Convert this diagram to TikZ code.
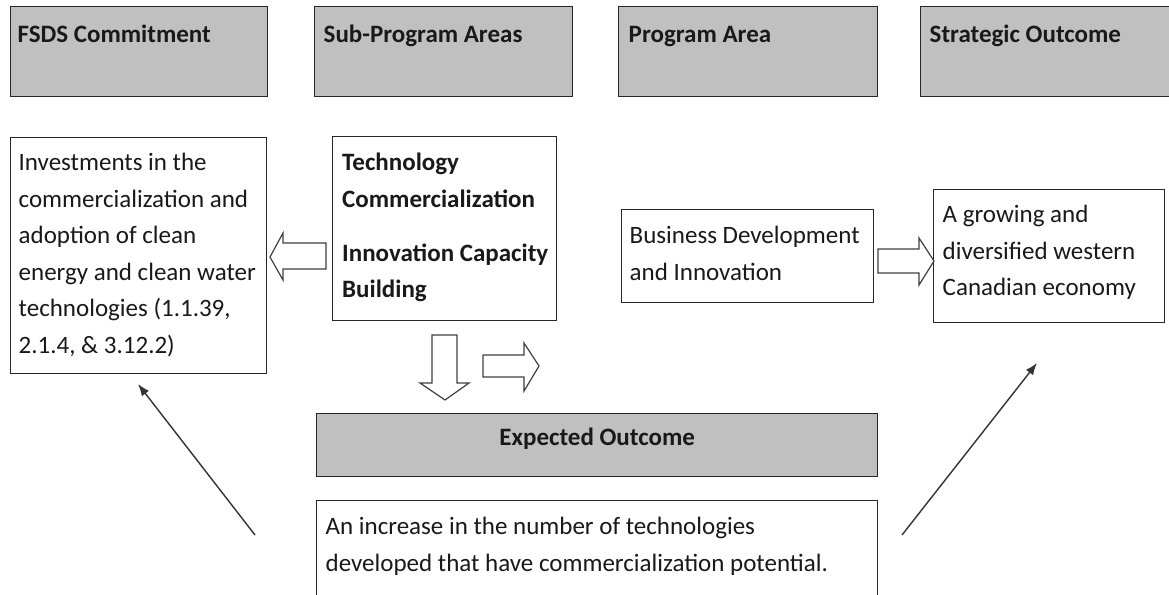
\documentclass[tikz,border=0pt]{standalone}
\usepackage{fontspec}
\setmainfont{Carlito}
\usetikzlibrary{arrows.meta}
\newcommand{\bx}[5]{\parbox[c][#2][t]{#1}{\raggedright\leftskip=#4\relax\vspace*{#3}\strut #5}}
\newcommand{\cbx}[4]{\parbox[c][#2][t]{#1}{\centering\vspace*{#3}\strut #4}}
\tikzset{
  base/.style={draw=black!85, line width=1.4pt, inner sep=0pt, anchor=north west,
    font=\fontsize{25pt}{36.5pt}\selectfont, text=black!90},
  hdr/.style={base, fill=gray!50!white!100, fill={rgb,255:red,192;green,192;blue,192}},
  wbox/.style={base, fill=white},
  hollow/.style={draw=black!75, line width=1.2pt, fill=white, line join=miter},
  thin/.style={draw=black!80, line width=1.4pt, -{Latex[length=12pt,width=9pt]}}
}
\begin{document}
\begin{tikzpicture}[x=1pt,y=-1pt]
\useasboundingbox (0,0) rectangle (1169,594);
\clip (0,0) rectangle (1169,594);
\fill[white] (0,0) rectangle (1169,594);
% headers
\node[hdr] (h1) at (10,6) {\bx{257pt}{90pt}{10pt}{7pt}{\textbf{FSDS Commitment}}};
\node[hdr] (h2) at (314,6) {\bx{258pt}{90pt}{10pt}{9pt}{\textbf{Sub-Program Areas}}};
\node[hdr] (h3) at (618,6) {\bx{259pt}{90pt}{10pt}{10pt}{\textbf{Program Area}}};
\node[hdr] (h4) at (920,6) {\bx{260pt}{90pt}{10pt}{9pt}{\textbf{Strategic Outcome}}};
% content boxes
\node[wbox] (inv) at (10,137) {\bx{256pt}{236pt}{7.5pt}{8pt}{Investments in the\\ commercialization and\\ adoption of clean\\ energy and clean water\\ technologies (1.1.39,\\ 2.1.4, \& 3.12.2)}};
\node[wbox] (tech) at (332,136) {\bx{224pt}{184pt}{8.5pt}{9.5pt}{\textbf{Technology}\\ \textbf{Commercialization}\\[17.5pt] \textbf{Innovation Capacity}\\ \textbf{Building}}};
\node[wbox] (bus) at (621,209) {\bx{252pt}{93pt}{8.5pt}{8pt}{Business Development\\ and Innovation}};
\node[wbox] (so) at (933,189) {\bx{231pt}{133pt}{7.5pt}{9pt}{A growing and\\ diversified western\\ Canadian economy}};
\node[hdr] (eo) at (316,413) {\cbx{561pt}{63pt}{6.5pt}{\textbf{Expected Outcome}}};
\node[wbox] (eot) at (316,500) {\bx{561pt}{130pt}{8.5pt}{9pt}{An increase in the number of technologies\\ developed that have commercialization potential.}};
% block arrows
\draw[hollow] (326,243) -- (283,243) -- (283,233) -- (270,257) -- (283,280) -- (283,269) -- (326,269) -- cycle;
\draw[hollow] (432,335) -- (457,335) -- (457,383) -- (469,383) -- (445,400) -- (420,383) -- (432,383) -- cycle;
\draw[hollow] (483,355) -- (524,355) -- (524,343) -- (539,366) -- (524,391) -- (524,377) -- (483,377) -- cycle;
\draw[hollow] (878,249) -- (919,249) -- (919,238) -- (934,261) -- (919,285) -- (919,273) -- (878,273) -- cycle;
% thin arrows
\coordinate (la) at (255,535);
\coordinate (lb) at (138,384);
\coordinate (ra) at (902,535);
\coordinate (rb) at (1037,363);
\draw[thin] (la) -- (lb);
\draw[thin] (ra) -- (rb);
\end{tikzpicture}
\end{document}
